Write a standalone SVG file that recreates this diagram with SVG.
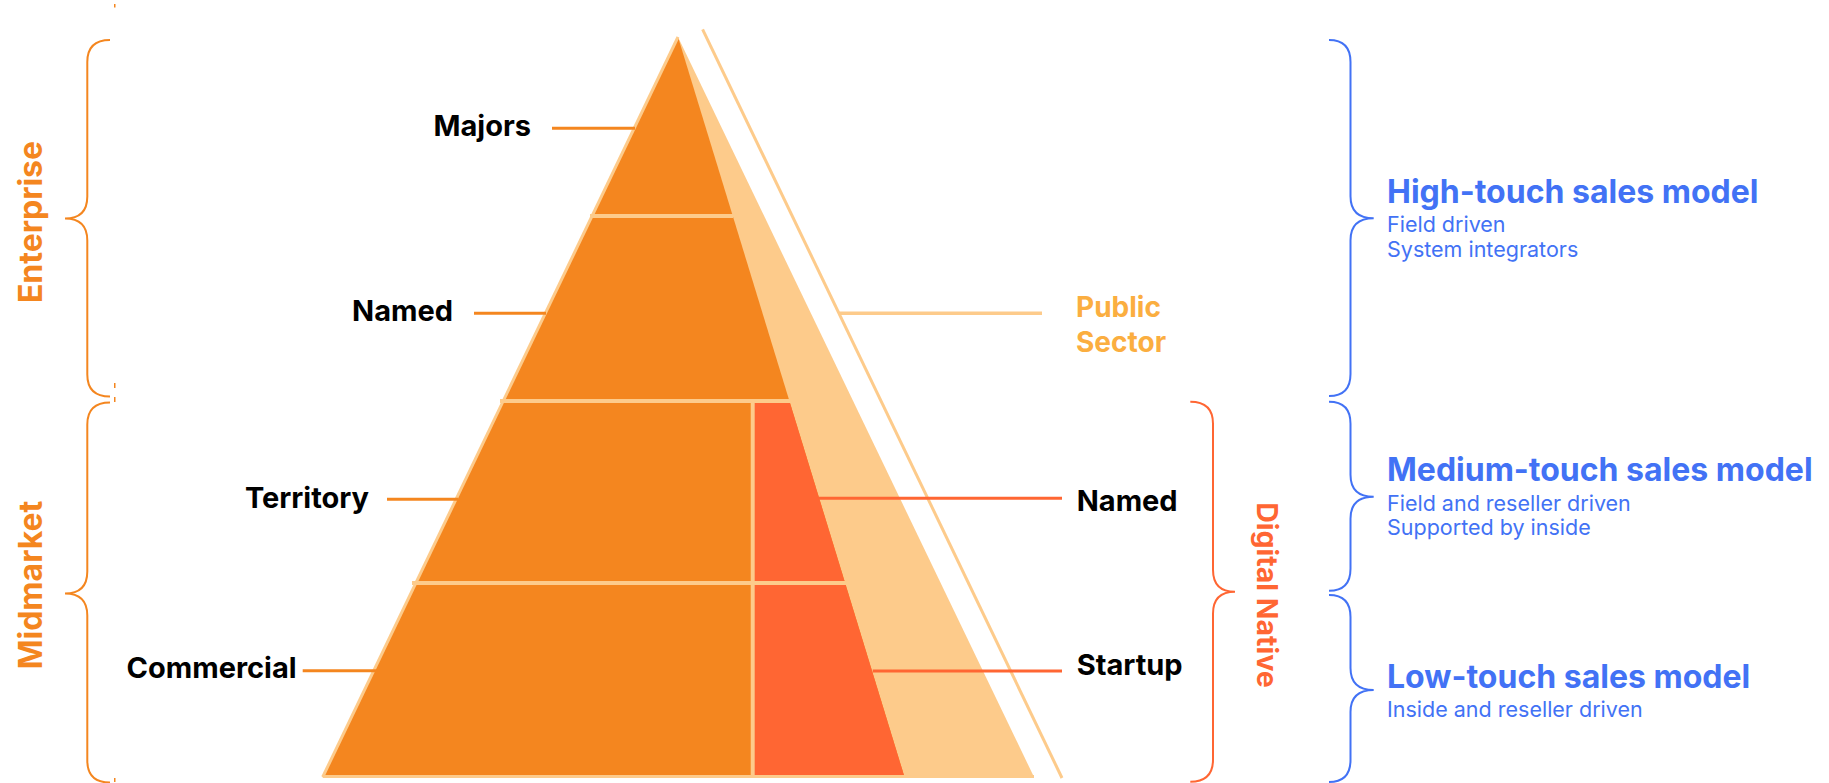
<svg xmlns="http://www.w3.org/2000/svg" width="1829" height="783" viewBox="0 0 1829 783">
<style>
.lbl{font-family:Inter,"Noto Sans",sans-serif;font-weight:700;font-size:29px;fill:#000}
.seg{font-family:Inter,"Noto Sans",sans-serif;font-weight:700;font-size:32px;fill:#F4861F}
.dn{font-family:Inter,"Noto Sans",sans-serif;font-weight:700;font-size:28.5px;fill:#FF6633}
.ps{font-family:Inter,"Noto Sans",sans-serif;font-weight:700;font-size:28px;fill:#FBAE40}
.hd{font-family:Inter,"Noto Sans",sans-serif;font-weight:700;font-size:32px;fill:#4272F5}
.sub{font-family:Inter,"Noto Sans",sans-serif;font-weight:400;font-size:21.5px;fill:#4272F5}
.brO{fill:none;stroke:#F4861F;stroke-width:2}
.brR{fill:none;stroke:#FF6633;stroke-width:2}
.brB{fill:none;stroke:#4272F5;stroke-width:2}
.ldO{stroke:#F4861F;stroke-width:3}
.ldR{stroke:#FF6633;stroke-width:3}
.ldP{stroke:#FDCB8B;stroke-width:3.5}
.div{stroke:#FDCB8B;stroke-width:4}
</style>
<rect width="1829" height="783" fill="#fff"/>
<g id="pyramid">
<polygon points="678,37 322.7,777 1034,777" fill="#FDCB8B"/>
<polygon points="678,37 322.7,777 904.5,777" fill="#F4861F"/>
<polygon points="752.7,401 789.4,401 904.5,777 752.7,777" fill="#FF6633"/>
<line x1="678" y1="37" x2="322.7" y2="777" stroke="#FDCB8B" stroke-width="3"/>
<line x1="322.7" y1="776.5" x2="1034" y2="776.5" stroke="#FDCB8B" stroke-width="3"/>
<line class="div" x1="590" y1="216" x2="733" y2="216"/>
<line class="div" x1="500" y1="401" x2="790" y2="401"/>
<line class="div" x1="412" y1="583" x2="846" y2="583"/>
<line class="div" x1="752.7" y1="401" x2="752.7" y2="777"/>
<line x1="702.6" y1="29.3" x2="1062" y2="778" stroke="#FDCB8B" stroke-width="3"/>
</g>
<g id="connectors">
<line class="ldO" x1="552" y1="128.3" x2="635" y2="128.3"/>
<line class="ldO" x1="474" y1="313.3" x2="546" y2="313.3"/>
<line class="ldO" x1="387" y1="499.3" x2="458" y2="499.3"/>
<line class="ldO" x1="302.7" y1="670.7" x2="377" y2="670.7"/>
<line class="ldP" x1="839.4" y1="313.3" x2="1042" y2="313.3"/>
<line class="ldR" x1="818.3" y1="498.3" x2="1062" y2="498.3"/>
<line class="ldR" x1="872.7" y1="671" x2="1062" y2="671"/>
</g>
<g id="label-majors"><text class="lbl" x="531" y="136" text-anchor="end">Majors</text></g>
<g id="label-named-left"><text class="lbl" x="453" y="321" text-anchor="end">Named</text></g>
<g id="label-territory"><text class="lbl" x="369" y="508" text-anchor="end">Territory</text></g>
<g id="label-commercial"><text class="lbl" x="296.7" y="678" text-anchor="end">Commercial</text></g>
<g id="label-public-sector"><text class="ps" x="1076" y="316.7">Public</text><text class="ps" x="1076" y="351.7">Sector</text></g>
<g id="label-named-right"><text class="lbl" x="1076.7" y="511">Named</text></g>
<g id="label-startup"><text class="lbl" x="1076.7" y="675">Startup</text></g>
<g id="enterprise">
<path class="brO" d="M110,40 Q87.3,40 87.3,62 L87.3,196.5 Q87.3,218.5 65,218.5 Q87.3,218.5 87.3,240.5 L87.3,374.5 Q87.3,396.5 110,396.5"/>
<text class="seg" transform="translate(41.5,222) rotate(-90)" text-anchor="middle">Enterprise</text>
</g>
<g id="midmarket">
<path class="brO" d="M110,402.5 Q87.3,402.5 87.3,424.5 L87.3,571.5 Q87.3,593.5 65,593.5 Q87.3,593.5 87.3,615.5 L87.3,760.5 Q87.3,782.5 110,782.5"/>
<text class="seg" transform="translate(41.5,585) rotate(-90)" text-anchor="middle">Midmarket</text>
</g>
<g id="ticks" fill="#F4861F">
<rect x="114" y="4" width="1.5" height="3.5"/>
<rect x="114" y="383" width="1.5" height="5"/>
<rect x="114" y="397" width="1.5" height="5"/>
<rect x="114" y="778" width="1.5" height="4"/>
</g>
<g id="digital-native">
<path class="brR" d="M1190.3,401.7 Q1213,401.7 1213,423.7 L1213,569.7 Q1213,591.7 1235,591.7 Q1213,591.7 1213,613.7 L1213,759.7 Q1213,781.7 1190.3,781.7"/>
<text class="dn" transform="translate(1257,595) rotate(90)" text-anchor="middle">Digital Native</text>
</g>
<g id="high-touch">
<path class="brB" d="M1329,40 Q1350.5,40 1350.5,62 L1350.5,196.3 Q1350.5,218.3 1373.7,218.3 Q1350.5,218.3 1350.5,240.3 L1350.5,374 Q1350.5,396 1329,396"/>
<text class="hd" x="1387" y="203.3">High-touch sales model</text>
<text class="sub" x="1387" y="231.7">Field driven</text>
<text class="sub" x="1387" y="257.3">System integrators</text>
</g>
<g id="medium-touch">
<path class="brB" d="M1329,401.7 Q1350.5,401.7 1350.5,423.7 L1350.5,474.7 Q1350.5,496.7 1373.7,496.7 Q1350.5,496.7 1350.5,518.7 L1350.5,568.7 Q1350.5,590.7 1329,590.7"/>
<text class="hd" x="1387" y="481">Medium-touch sales model</text>
<text class="sub" x="1387" y="511">Field and reseller driven</text>
<text class="sub" x="1387" y="535">Supported by inside</text>
</g>
<g id="low-touch">
<path class="brB" d="M1329,595 Q1350.5,595 1350.5,617 L1350.5,668 Q1350.5,690 1373.7,690 Q1350.5,690 1350.5,712 L1350.5,760 Q1350.5,782 1329,782"/>
<text class="hd" x="1387" y="688.3">Low-touch sales model</text>
<text class="sub" x="1387" y="717">Inside and reseller driven</text>
</g>
</svg>
